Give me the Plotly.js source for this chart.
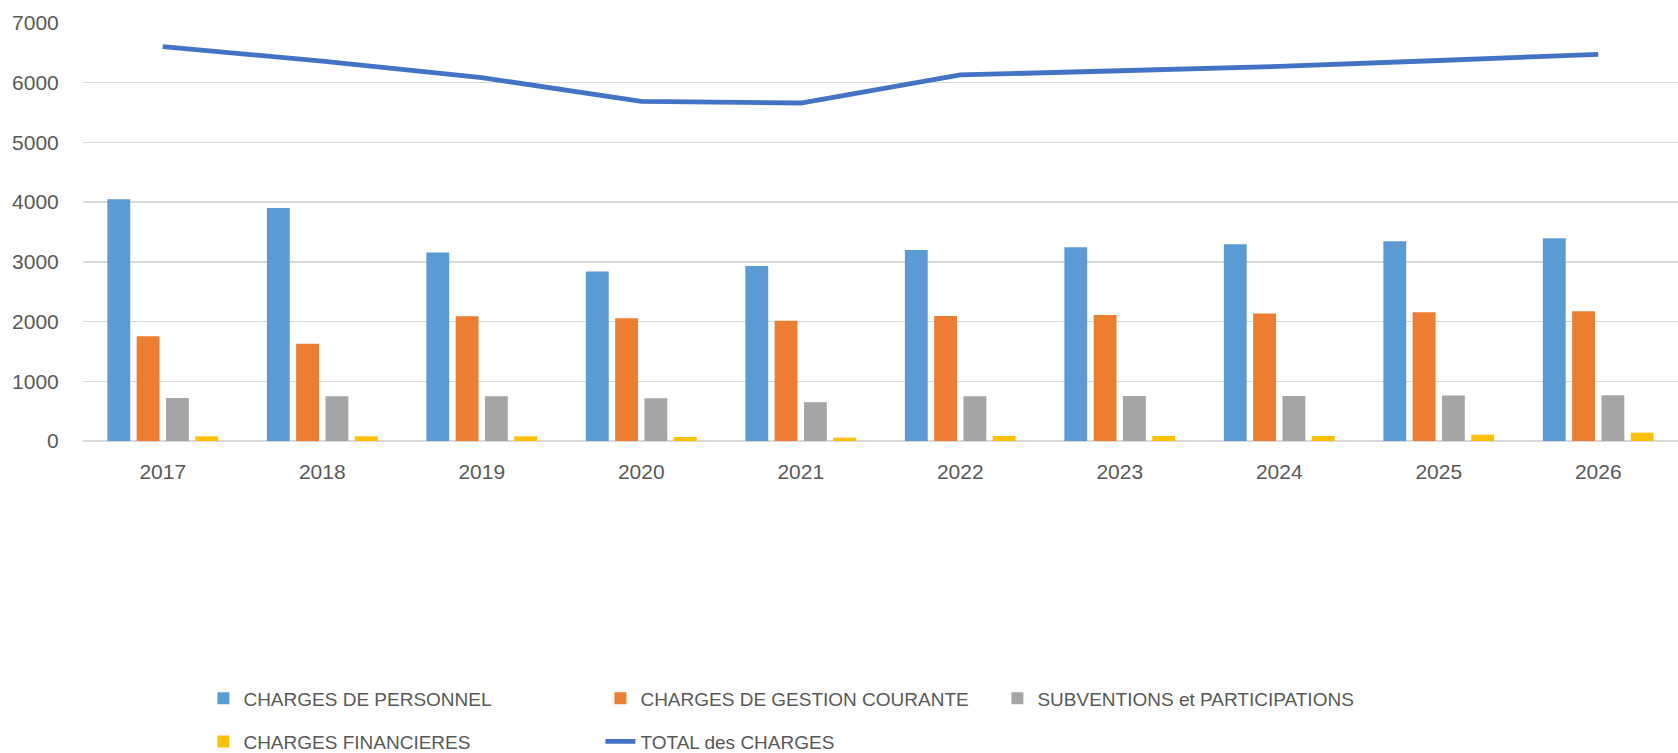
<!DOCTYPE html>
<html>
<head>
<meta charset="utf-8">
<script src="https://cdn.plot.ly/plotly-3.0.1.min.js"></script>
<style>
  html, body { margin: 0; padding: 0; background: #ffffff; }
  #chart { width: 1678px; height: 753px; }
</style>
</head>
<body>
<div id="chart"></div>
<script>
const years = ['2017', '2018', '2019', '2020', '2021', '2022', '2023', '2024', '2025', '2026'];
const chargesPersonnel = [4050, 3900, 3155, 2840, 2930, 3200, 3245, 3295, 3345, 3395];
const chargesGestion = [1755, 1630, 2090, 2055, 2015, 2095, 2110, 2135, 2155, 2172];
const subventions = [720, 750, 750, 715, 650, 750, 755, 755, 760, 765];
const chargesFinancieres = [78, 78, 78, 67, 56, 84, 84, 84, 106, 140];
const totalCharges = [6605, 6360, 6085, 5688, 5660, 6130, 6200, 6273, 6372, 6476];

const seriesNames = ['CHARGES DE PERSONNEL', 'CHARGES DE GESTION COURANTE', 'SUBVENTIONS et PARTICIPATIONS', 'CHARGES FINANCIERES', 'TOTAL des CHARGES'];
const seriesColors = ['#5B9BD5', '#ED7D31', '#A5A5A5', '#FFC000', '#4472C4'];
const yTicks = [0, 1000, 2000, 3000, 4000, 5000, 6000, 7000];

const textColor = '#595959';
const font = 'Liberation Sans, Arial, sans-serif';

function barTrace(values, i, legendId) {
  return {
    type: 'bar', x: years, y: values, name: seriesNames[i],
    marker: { color: seriesColors[i], line: { width: 0 } },
    legend: legendId, hoverinfo: 'x+y+name'
  };
}

const data = [
  barTrace(chargesPersonnel, 0, 'legend'),
  barTrace(chargesGestion, 1, 'legend'),
  barTrace(subventions, 2, 'legend'),
  barTrace(chargesFinancieres, 3, 'legend2'),
  {
    type: 'scatter', mode: 'lines', x: years, y: totalCharges, name: seriesNames[4],
    line: { color: seriesColors[4], width: 4.8 }, legend: 'legend2'
  }
];

const legendBase = {
  orientation: 'h', xanchor: 'left', yanchor: 'middle',
  entrywidth: 352, entrywidthmode: 'pixels',
  font: { family: font, size: 19, color: textColor },
  bgcolor: 'rgba(0,0,0,0)', borderwidth: 0, traceorder: 'normal'
};

const layout = {
  width: 1678, height: 753,
  paper_bgcolor: '#ffffff', plot_bgcolor: '#ffffff',
  margin: { l: 82.5, r: 0, t: 22.7, b: 312.3, pad: 0, autoexpand: false },
  barmode: 'group', bargap: 0.265, bargroupgap: 0.22,
  font: { family: font, color: textColor },
  showlegend: true,
  xaxis: {
    type: 'category', showgrid: false, zeroline: false, showline: false,
    ticks: 'outside', ticklen: 12, tickcolor: 'rgba(0,0,0,0)',
    tickfont: { family: font, size: 21, color: textColor }
  },
  yaxis: {
    range: [0, 7000], tickvals: yTicks, ticktext: yTicks.map(String),
    showgrid: true, gridcolor: '#D9D9D9', gridwidth: 1.3,
    zeroline: true, zerolinecolor: '#D9D9D9', zerolinewidth: 1.3,
    showline: false,
    ticks: 'outside', ticklen: 19, tickcolor: 'rgba(0,0,0,0)',
    tickfont: { family: font, size: 21, color: textColor }
  },
  legend: Object.assign({}, legendBase, { x: 0.0755, y: -0.6156 }),
  legend2: Object.assign({}, legendBase, { x: 0.0755, y: -0.7190 })
};

Plotly.newPlot('chart', data, layout, { displayModeBar: false, staticPlot: true });
</script>
</body>
</html>
